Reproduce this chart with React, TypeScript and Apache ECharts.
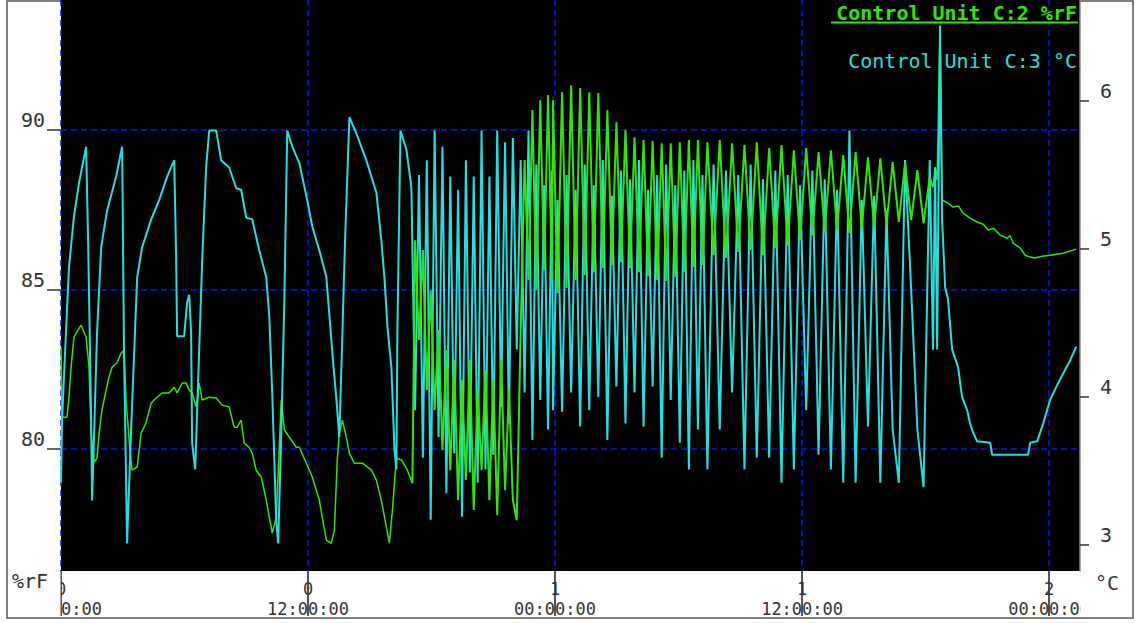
import React, { useEffect, useRef } from "react";
import * as echarts from "echarts";

// Control Unit C:2 – relative humidity (%rF), logged points [hours, %rF] before fast cycling
const humidityStart: [number, number][] = [
  [0, 83.2], [0.05, 81.0], [0.29, 81.0], [0.39, 81.63], [0.49, 82.57], [0.63, 83.51], [0.97, 83.89],
  [1.22, 83.51], [1.36, 82.57], [1.46, 80.5], [1.61, 79.59], [1.75, 79.72], [1.85, 80.5], [1.99, 81.22],
  [2.19, 81.85], [2.33, 82.26], [2.48, 82.57], [2.72, 82.7], [2.92, 83.01], [3.06, 83.1], [3.16, 81.54],
  [3.31, 80.28], [3.45, 79.34], [3.7, 79.44], [3.89, 80.5], [4.13, 80.82], [4.38, 81.44], [4.52, 81.54],
  [4.91, 81.76], [5.25, 81.76], [5.5, 81.94], [5.64, 81.76], [5.89, 82.07], [6.08, 82.07], [6.23, 81.85],
  [6.37, 81.76], [6.57, 81.32], [6.71, 82.07], [6.86, 81.54], [7.2, 81.63], [7.54, 81.6], [7.83, 81.38],
  [8.17, 81.32], [8.41, 80.69], [8.56, 80.69], [8.75, 80.91], [8.9, 80.19], [9.14, 80.06], [9.29, 79.87],
  [9.48, 79.34], [9.73, 79.12], [9.97, 78.4], [10.21, 77.55], [10.26, 77.37], [10.46, 77.87], [10.7, 81.54],
  [10.85, 80.6], [11.09, 80.38], [11.43, 80.06], [11.58, 80.06], [11.92, 79.56], [12.21, 79.12], [12.55, 78.4],
  [12.69, 77.87], [12.89, 77.15], [13.13, 77.05], [13.28, 77.46], [13.42, 79.66], [13.52, 80.5], [13.67, 80.91],
  [13.86, 80.38], [14.01, 79.87], [14.25, 79.56], [14.64, 79.56], [15.08, 79.34], [15.32, 79.03], [15.56, 78.4],
  [15.81, 77.55], [15.95, 77.05], [16.1, 78.09], [16.29, 79.72], [16.54, 79.66], [16.83, 79.34], [17.07, 78.93],
];

// Fast cycling phase: both channels logged on a fixed sample step per span (hours)
const cycleSpanA = { start: 17.2, step: 0.19 };
const cycleSpanB = { start: 23.9, step: 0.22 };
const cycleSpanC = { start: 31.4, step: 0.3 };

const humidityCycleA = [
  86.55, 83.42, 86.24, 81.85, 84.98, 81.22, 83.73, 79.97, 83.1, 79.34, 82.79, 78.4, 82.16, 79.03, 82.79, 78.09,
  81.85, 79.34, 82.48, 78.4, 82.16, 77.93, 82.79, 78.71, 81.85, 78.4, 77.77, 83.73, 89.06, 85.3, 90.63, 84.98,
  90.94, 85.61, 91.1, 85.3,
];
const humidityCycleB = [
  90.94, 84.89, 91.19, 85.05, 91.41, 85.3, 91.32, 85.45, 91.19, 85.55, 91.16, 85.67, 90.63, 85.77, 90.25, 85.86,
  90.0, 85.67, 89.78, 85.55, 89.69, 85.42, 89.66, 85.3, 89.59, 85.27, 89.59, 85.39, 89.62, 85.55, 89.69, 85.71,
  89.69, 85.77,
];
const humidityCycleC = [
  89.62, 86.08, 89.69, 85.99, 89.59, 86.18, 89.53, 86.24, 89.62, 86.08, 89.44, 86.3, 89.53, 86.39, 89.37, 86.55,
  89.44, 86.71, 89.31, 86.8, 89.37, 86.87, 89.22, 86.77, 89.31, 86.93, 89.15, 86.96, 89.12, 87.02, 89.0, 87.12,
  88.97, 87.18, 88.75, 87.08, 88.53,
];

const humidityEnd: [number, number][] = [
  [42.36, 88.21], [42.46, 88.84], [42.56, 88.43], [42.7, 93.23], [42.8, 87.81], [43.09, 87.71], [43.34, 87.59],
  [43.6, 87.62], [43.82, 87.4], [44.16, 87.24], [44.5, 87.12], [44.8, 87.05], [45.04, 86.87], [45.3, 86.92],
  [45.62, 86.71], [45.96, 86.61], [46.1, 86.7], [46.25, 86.46], [46.6, 86.3], [46.84, 86.08], [47.08, 86.02],
  [47.32, 85.99], [47.67, 86.05], [48.05, 86.08], [48.69, 86.14], [49.32, 86.27],
];

// Control Unit C:3 – temperature (°C), [hours, °C]
const tempStart: [number, number][] = [
  [0, 3.42], [0.05, 3.84], [0.24, 4.43], [0.39, 4.88], [0.63, 5.22], [0.88, 5.45], [1.22, 5.69], [1.31, 5.11],
  [1.46, 3.89], [1.51, 3.3], [1.61, 3.76], [1.75, 4.43], [1.95, 5.01], [2.24, 5.26], [2.68, 5.49], [2.97, 5.69],
  [3.06, 4.32], [3.21, 3.01], [3.4, 3.76], [3.7, 4.81], [3.94, 5.01], [4.38, 5.2], [4.77, 5.33], [5.16, 5.49],
  [5.5, 5.6], [5.59, 4.97], [5.64, 4.41], [5.98, 4.41], [6.13, 4.64], [6.23, 4.69], [6.32, 4.43], [6.37, 3.69],
  [6.52, 3.51], [6.61, 3.89], [6.86, 4.93], [7.05, 5.55], [7.2, 5.8], [7.54, 5.8], [7.78, 5.6], [8.17, 5.55],
  [8.51, 5.41], [8.75, 5.4], [9.0, 5.21], [9.29, 5.2], [9.63, 4.99], [9.97, 4.81], [10.12, 4.54], [10.26, 4.03],
  [10.46, 3.15], [10.55, 3.01], [10.7, 3.76], [10.85, 4.66], [10.99, 5.8], [11.24, 5.69], [11.58, 5.58],
  [11.96, 5.33], [12.21, 5.15], [12.55, 4.99], [12.89, 4.81], [13.18, 4.3], [13.38, 3.98], [13.52, 3.73],
  [13.67, 4.43], [13.81, 5.11], [14.01, 5.89], [14.35, 5.78], [14.83, 5.6], [15.32, 5.38], [15.56, 5.06],
  [15.71, 4.81], [15.86, 4.47], [16.05, 4.2], [16.2, 3.64], [16.29, 3.51], [16.34, 4.43], [16.49, 5.8],
  [16.78, 5.67], [17.02, 5.42],
];

const tempCycleA = [
  3.91, 5.5, 3.59, 5.6, 3.17, 5.8, 3.73, 5.69, 3.35, 5.49, 3.62, 5.4, 3.19, 5.6, 3.49, 5.49, 3.42, 5.8, 3.51, 5.49,
  3.61, 5.8, 3.93, 5.72, 3.82, 5.75, 4.32, 5.6, 4.03, 5.8, 3.71, 5.57, 3.98, 5.43, 3.78, 5.53,
];
const tempCycleB = [
  3.91, 5.33, 3.9, 5.5, 4.03, 5.4, 3.8, 5.57, 3.91, 5.43, 4.0, 5.6, 3.71, 5.36, 4.07, 5.53, 3.82, 5.47, 4.03, 5.6,
  3.8, 5.4, 4.07, 5.5, 3.59, 5.57, 3.98, 5.43, 3.69, 5.53, 3.51, 5.6, 3.78, 5.5,
];
const tempCycleC = [
  3.51, 5.57, 3.78, 5.53, 4.03, 5.5, 3.51, 5.57, 3.59, 5.47, 3.59, 5.53, 3.42, 5.5, 3.51, 5.43, 3.91, 5.53, 3.61,
  5.47, 3.51, 5.4, 3.42, 5.8, 3.42, 5.33, 3.8, 5.36, 3.42, 5.26, 3.78, 3.42, 5.6, 4.72, 3.78, 3.39, 5.6,
];

const tempEnd: [number, number][] = [
  [42.36, 4.32], [42.46, 5.55], [42.56, 4.32], [42.7, 6.51], [42.8, 5.2], [42.95, 4.74], [43.09, 4.66],
  [43.29, 4.32], [43.58, 4.2], [43.77, 4.0], [44.02, 3.91], [44.16, 3.82], [44.31, 3.76], [44.5, 3.7],
  [45.14, 3.69], [45.23, 3.61], [46.98, 3.61], [47.08, 3.69], [47.42, 3.7], [47.71, 3.82], [48.05, 3.98],
  [48.39, 4.08], [48.69, 4.16], [49.03, 4.25], [49.32, 4.34],
];

// Axis ticks
const hourTicks = [0, 12, 24, 36, 48];
const humidityTicks = [80, 85, 90];
const tempTicks = [3, 4, 5, 6];

const humidityName = "Control Unit C:2 %rF";
const tempName = "Control Unit C:3 °C";

const FONT = '"DejaVu Sans Mono", monospace';
const GREEN = "#2fe600";
const CYAN = "#22e0e0";
const GRID_BLUE = "#0a14f0";

function sampled(span: { start: number; step: number }, values: number[]): [number, number][] {
  return values.map((v, i) => [Math.round((span.start + i * span.step) * 1000) / 1000, v]);
}

// Fast-cycling samples, joined to the slow parts at both ends
function cyclePhase(
  before: [number, number][],
  a: number[],
  b: number[],
  c: number[],
  after: [number, number][]
): [number, number][] {
  return [
    before[before.length - 1],
    ...sampled(cycleSpanA, a),
    ...sampled(cycleSpanB, b),
    ...sampled(cycleSpanC, c),
    after[0],
  ];
}

const humidityCycles = cyclePhase(humidityStart, humidityCycleA, humidityCycleB, humidityCycleC, humidityEnd);
const tempCycles = cyclePhase(tempStart, tempCycleA, tempCycleB, tempCycleC, tempEnd);

function timeLabel(v: number): string {
  const day = Math.floor(v / 24);
  const hh = String(Math.round(v % 24)).padStart(2, "0");
  return `${day}\n${hh}:00:00`;
}

function trace(name: string, axis: number, data: [number, number][], color: string, width: number, z: number) {
  return {
    name,
    type: "line",
    yAxisIndex: axis,
    data,
    showSymbol: false,
    symbol: "none",
    lineStyle: { color, width },
    z,
  };
}

export default function App() {
  const ref = useRef<HTMLDivElement>(null);

  useEffect(() => {
    if (!ref.current) return;
    const chart = echarts.init(ref.current, undefined, { renderer: "svg" });
    chart.setOption({
      animation: false,
      backgroundColor: "#ffffff",
      grid: {
        left: 61,
        right: 55,
        top: 0,
        bottom: 52,
        show: true,
        backgroundColor: "#000000",
        borderWidth: 0,
        outerBoundsMode: "none",
        containLabel: false,
      },
      xAxis: {
        type: "value",
        min: 0,
        max: 49.5,
        interval: 12,
        axisLine: { show: false },
        axisTick: {
          show: true,
          customValues: hourTicks,
          length: 45,
          lineStyle: { color: "#1a1a1a", width: 1.5 },
        },
        splitLine: {
          show: true,
          lineStyle: { color: GRID_BLUE, width: 1.5, type: [6, 4] },
        },
        axisLabel: {
          customValues: hourTicks,
          formatter: timeLabel,
          fontFamily: FONT,
          fontSize: 17,
          lineHeight: 20,
          color: "#333333",
          margin: 8,
          hideOverlap: false,
        },
      },
      yAxis: [
        {
          type: "value",
          position: "left",
          min: 76.18,
          max: 94.08,
          axisLine: { show: false },
          axisTick: {
            show: true,
            customValues: humidityTicks,
            length: 14,
            lineStyle: { color: "#333333", width: 1.5 },
          },
          splitLine: {
            show: true,
            lineStyle: { color: GRID_BLUE, width: 1.5, type: [6, 4] },
          },
          axisLabel: {
            customValues: humidityTicks,
            formatter: (v: number) => String(v),
            fontFamily: FONT,
            fontSize: 20,
            lineHeight: 20,
            color: "#333333",
            margin: 16,
            verticalAlign: "bottom",
          },
        },
        {
          type: "value",
          position: "right",
          min: 2.824,
          max: 6.682,
          axisLine: { show: true, lineStyle: { color: "#8a8a8a", width: 1.5 } },
          axisTick: {
            show: true,
            customValues: tempTicks,
            length: 9,
            lineStyle: { color: "#333333", width: 1.5 },
          },
          splitLine: { show: false },
          axisLabel: {
            customValues: tempTicks,
            formatter: (v: number) => String(v),
            fontFamily: FONT,
            fontSize: 20,
            lineHeight: 20,
            color: "#333333",
            margin: 20,
            verticalAlign: "bottom",
          },
        },
      ],
      series: [
        trace(humidityName, 0, humidityStart, GREEN, 1.5, 2),
        trace(humidityName, 0, humidityEnd, GREEN, 1.5, 2),
        trace(tempName, 1, tempStart, CYAN, 2, 3),
        trace(tempName, 1, tempCycles, CYAN, 2, 3),
        trace(tempName, 1, tempEnd, CYAN, 2, 3),
        trace(humidityName, 0, humidityCycles, GREEN, 2, 4),
      ],
      graphic: [
        {
          type: "rect",
          z: -10,
          shape: { x: 7, y: 1, width: 1126, height: 617 },
          style: { fill: "#ffffff", stroke: "#555555", lineWidth: 1.5 },
        },
        {
          type: "rect",
          z: 20,
          shape: { x: 8, y: 572, width: 52.5, height: 45 },
          style: { fill: "#ffffff" },
        },
        {
          type: "rect",
          z: 20,
          shape: { x: 1081, y: 572, width: 51, height: 45 },
          style: { fill: "#ffffff" },
        },
        {
          type: "text",
          z: 21,
          x: 12,
          y: 581,
          style: {
            text: "%rF",
            fill: "#333333",
            font: `20px ${FONT}`,
            align: "left",
            verticalAlign: "middle",
          },
        },
        {
          type: "text",
          z: 21,
          x: 1095,
          y: 583,
          style: {
            text: "°C",
            fill: "#333333",
            font: `20px ${FONT}`,
            align: "left",
            verticalAlign: "middle",
          },
        },
        {
          type: "text",
          z: 30,
          x: 1077,
          y: 13,
          style: {
            text: humidityName,
            fill: GREEN,
            font: `bold 20px ${FONT}`,
            align: "right",
            verticalAlign: "middle",
          },
        },
        {
          type: "line",
          z: 30,
          shape: { x1: 831, y1: 22.5, x2: 1078, y2: 22.5 },
          style: { stroke: GREEN, lineWidth: 2 },
        },
        {
          type: "text",
          z: 30,
          x: 1077,
          y: 61,
          style: {
            text: tempName,
            fill: CYAN,
            font: `20px ${FONT}`,
            align: "right",
            verticalAlign: "middle",
          },
        },
      ],
    });
    return () => chart.dispose();
  }, []);

  return (
    <div
      ref={ref}
      style={{ position: "fixed", left: 0, top: 0, width: 1135, height: 623 }}
    />
  );
}
